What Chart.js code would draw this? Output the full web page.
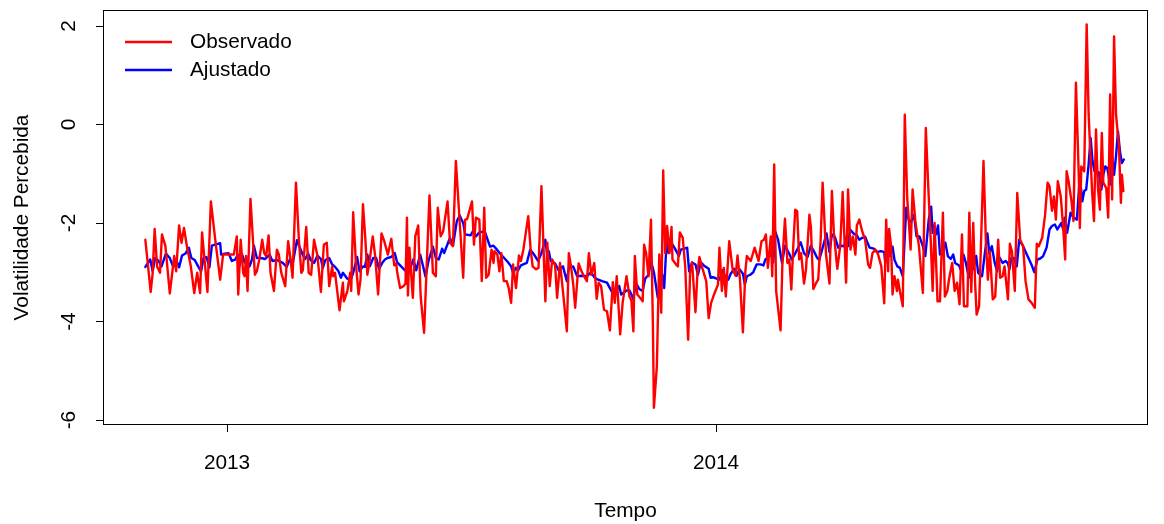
<!DOCTYPE html>
<html>
<head>
<meta charset="utf-8">
<script src="https://cdn.jsdelivr.net/npm/chart.js@4/dist/chart.umd.min.js"></script>
<style>
html,body{margin:0;padding:0;background:#fff;}
#wrap{width:1164px;height:524px;}
</style>
</head>
<body>
<div id="wrap"><canvas id="c" width="1164" height="524"></canvas></div>
<script>
// ---- data (time in decimal years) ----
const obsT = [2012.833,2012.844,2012.848,2012.852,2012.857,2012.863,2012.867,2012.874,2012.883,2012.892,2012.896,2012.902,2012.907,2012.912,2012.918,2012.926,2012.933,2012.939,2012.945,2012.949,2012.954,2012.960,2012.967,2012.976,2012.986,2012.992,2013.006,2013.014,2013.020,2013.023,2013.028,2013.033,2013.036,2013.039,2013.042,2013.048,2013.053,2013.057,2013.061,2013.066,2013.072,2013.076,2013.080,2013.085,2013.089,2013.096,2013.102,2013.106,2013.111,2013.119,2013.125,2013.130,2013.134,2013.141,2013.147,2013.152,2013.155,2013.162,2013.167,2013.172,2013.178,2013.185,2013.192,2013.198,2013.204,2013.209,2013.215,2013.217,2013.221,2013.230,2013.237,2013.239,2013.246,2013.252,2013.254,2013.258,2013.264,2013.269,2013.273,2013.278,2013.283,2013.287,2013.292,2013.298,2013.303,2013.309,2013.316,2013.321,2013.329,2013.336,2013.342,2013.346,2013.348,2013.354,2013.361,2013.365,2013.368,2013.370,2013.373,2013.376,2013.380,2013.385,2013.391,2013.396,2013.403,2013.414,2013.421,2013.427,2013.431,2013.437,2013.442,2013.451,2013.456,2013.462,2013.468,2013.483,2013.487,2013.491,2013.501,2013.505,2013.509,2013.516,2013.521,2013.526,2013.530,2013.535,2013.541,2013.545,2013.547,2013.553,2013.557,2013.561,2013.566,2013.572,2013.576,2013.581,2013.585,2013.591,2013.597,2013.601,2013.606,2013.616,2013.621,2013.625,2013.632,2013.637,2013.643,2013.651,2013.655,2013.660,2013.665,2013.671,2013.675,2013.681,2013.688,2013.695,2013.699,2013.704,2013.708,2013.712,2013.719,2013.725,2013.730,2013.736,2013.740,2013.745,2013.751,2013.756,2013.760,2013.765,2013.771,2013.777,2013.783,2013.789,2013.793,2013.797,2013.804,2013.809,2013.817,2013.823,2013.827,2013.831,2013.834,2013.839,2013.845,2013.850,2013.853,2013.857,2013.862,2013.867,2013.871,2013.873,2013.879,2013.884,2013.888,2013.892,2013.896,2013.900,2013.905,2013.909,2013.911,2013.918,2013.922,2013.926,2013.932,2013.937,2013.943,2013.947,2013.951,2013.958,2013.962,2013.966,2013.971,2013.980,2013.985,2013.990,2013.996,2014.004,2014.007,2014.012,2014.016,2014.020,2014.027,2014.034,2014.040,2014.044,2014.049,2014.055,2014.060,2014.063,2014.071,2014.079,2014.087,2014.093,2014.098,2014.102,2014.106,2014.112,2014.115,2014.119,2014.123,2014.132,2014.136,2014.141,2014.146,2014.150,2014.154,2014.158,2014.162,2014.166,2014.170,2014.174,2014.180,2014.184,2014.191,2014.194,2014.199,2014.205,2014.209,2014.214,2014.218,2014.225,2014.232,2014.237,2014.241,2014.248,2014.254,2014.259,2014.266,2014.270,2014.275,2014.280,2014.285,2014.288,2014.293,2014.299,2014.305,2014.311,2014.315,2014.320,2014.326,2014.331,2014.338,2014.344,2014.348,2014.352,2014.354,2014.358,2014.361,2014.365,2014.370,2014.372,2014.376,2014.382,2014.386,2014.391,2014.398,2014.402,2014.408,2014.415,2014.423,2014.429,2014.434,2014.439,2014.443,2014.447,2014.453,2014.458,2014.464,2014.468,2014.473,2014.477,2014.483,2014.488,2014.493,2014.498,2014.503,2014.507,2014.514,2014.518,2014.522,2014.526,2014.530,2014.533,2014.538,2014.547,2014.552,2014.556,2014.560,2014.566,2014.571,2014.577,2014.581,2014.586,2014.590,2014.597,2014.601,2014.605,2014.611,2014.616,2014.622,2014.628,2014.633,2014.639,2014.646,2014.652,2014.656,2014.660,2014.667,2014.673,2014.678,2014.682,2014.687,2014.691,2014.695,2014.699,2014.705,2014.710,2014.714,2014.717,2014.721,2014.727,2014.731,2014.736,2014.742,2014.744,2014.747,2014.753,2014.758,2014.762,2014.769,2014.773,2014.777,2014.781,2014.785,2014.789,2014.792,2014.798,2014.802,2014.806,2014.810,2014.814,2014.818,2014.824,2014.828,2014.830,2014.833];
const obsV = [-2.34,-3.40,-3.01,-2.12,-2.88,-3.01,-2.23,-2.47,-3.43,-2.67,-2.98,-2.05,-2.40,-2.10,-2.47,-2.88,-3.42,-3.01,-3.42,-2.19,-2.74,-3.40,-1.56,-2.34,-3.15,-2.64,-2.64,-2.64,-2.27,-3.45,-2.34,-3.01,-3.08,-2.67,-3.38,-1.51,-2.34,-3.05,-2.98,-2.74,-2.34,-2.61,-2.67,-2.25,-3.01,-3.38,-2.54,-2.64,-3.01,-3.28,-2.37,-2.74,-3.11,-1.18,-2.34,-3.01,-2.96,-2.08,-3.01,-3.05,-2.34,-2.67,-3.40,-2.44,-2.40,-3.28,-2.88,-3.08,-3.01,-3.77,-3.21,-3.59,-3.38,-3.01,-3.38,-1.78,-2.88,-3.45,-3.15,-1.62,-2.34,-3.05,-2.74,-2.27,-2.67,-3.45,-2.21,-2.35,-2.64,-2.32,-2.86,-2.82,-3.00,-3.32,-3.28,-3.23,-1.89,-3.47,-2.50,-2.96,-3.52,-2.27,-2.05,-3.49,-4.23,-1.44,-3.01,-3.08,-1.69,-2.27,-2.17,-1.56,-2.40,-2.47,-0.74,-3.11,-1.93,-1.92,-1.56,-2.44,-1.89,-1.93,-3.18,-1.69,-3.11,-3.05,-2.54,-2.81,-2.57,-2.64,-2.98,-2.61,-3.18,-3.18,-3.32,-3.62,-2.84,-3.32,-2.66,-2.77,-2.54,-1.86,-2.54,-2.88,-2.94,-2.91,-1.25,-3.59,-2.40,-3.28,-2.74,-2.86,-3.52,-2.81,-3.49,-4.20,-2.61,-2.91,-3.25,-3.72,-2.82,-2.98,-3.08,-3.18,-2.61,-3.05,-2.81,-3.54,-3.21,-3.28,-3.76,-3.79,-4.18,-3.20,-3.62,-3.08,-4.26,-3.62,-3.08,-3.49,-3.57,-4.20,-2.67,-3.45,-3.52,-3.59,-2.44,-2.61,-3.08,-1.93,-4.10,-5.75,-4.91,-2.64,-3.82,-0.93,-2.61,-2.06,-2.61,-2.08,-2.74,-2.84,-2.88,-2.19,-2.30,-2.88,-4.37,-3.01,-2.80,-3.81,-3.01,-2.69,-2.88,-3.18,-3.93,-3.62,-3.45,-3.25,-2.50,-3.38,-2.91,-3.49,-2.37,-2.94,-3.07,-2.66,-3.15,-4.22,-2.98,-2.67,-2.77,-2.50,-2.77,-2.37,-2.34,-2.23,-2.91,-2.27,-3.08,-0.81,-3.38,-4.18,-2.74,-1.91,-2.81,-2.74,-3.35,-2.47,-1.73,-1.76,-2.74,-2.61,-3.23,-2.94,-1.83,-2.08,-3.34,-3.21,-3.15,-2.34,-1.18,-2.64,-3.23,-1.35,-2.20,-2.93,-2.47,-1.37,-3.21,-1.32,-2.54,-2.27,-2.64,-2.05,-1.93,-2.17,-2.34,-2.84,-2.91,-2.61,-2.54,-2.62,-2.88,-3.63,-1.93,-2.98,-2.12,-2.47,-3.45,-3.08,-3.38,-3.15,-3.38,-3.69,0.20,-1.49,-2.54,-1.32,-2.00,-2.47,-3.42,-0.07,-1.25,-2.34,-3.38,-2.00,-3.59,-3.59,-1.79,-3.49,-3.38,-3.11,-2.81,-3.38,-3.21,-3.65,-2.23,-3.69,-3.69,-1.79,-3.40,-2.00,-3.25,-3.86,-3.69,-0.74,-2.40,-3.15,-2.57,-3.55,-3.49,-2.34,-3.11,-3.08,-2.88,-3.55,-2.42,-2.57,-3.38,-1.39,-2.34,-2.47,-3.18,-3.55,-3.63,-3.72,-2.42,-2.47,-2.30,-1.83,-1.18,-1.25,-1.75,-1.46,-1.93,-1.15,-1.46,-2.10,-2.74,-0.95,-1.15,-1.56,-1.96,0.85,-1.08,-2.10,-0.85,-0.95,2.03,0.20,-1.35,-1.96,-0.10,-1.29,-1.73,-0.17,-1.18,-1.29,-1.89,0.61,-1.52,1.79,0.20,-0.44,-1.59,-1.02,-1.35];

const fitT = [2012.833,2012.843,2012.848,2012.853,2012.860,2012.866,2012.875,2012.883,2012.890,2012.897,2012.902,2012.908,2012.915,2012.922,2012.927,2012.934,2012.941,2012.947,2012.952,2012.958,2012.964,2012.969,2012.979,2012.986,2012.988,2012.995,2013.003,2013.010,2013.017,2013.022,2013.025,2013.031,2013.036,2013.040,2013.046,2013.051,2013.055,2013.061,2013.069,2013.078,2013.087,2013.093,2013.102,2013.114,2013.122,2013.129,2013.134,2013.143,2013.149,2013.155,2013.160,2013.166,2013.171,2013.178,2013.185,2013.192,2013.196,2013.201,2013.209,2013.215,2013.221,2013.228,2013.233,2013.237,2013.246,2013.253,2013.258,2013.266,2013.271,2013.278,2013.282,2013.287,2013.292,2013.299,2013.305,2013.311,2013.318,2013.323,2013.328,2013.336,2013.343,2013.348,2013.356,2013.366,2013.370,2013.374,2013.381,2013.387,2013.395,2013.401,2013.406,2013.412,2013.421,2013.427,2013.433,2013.440,2013.444,2013.452,2013.456,2013.462,2013.470,2013.476,2013.483,2013.487,2013.498,2013.504,2013.509,2013.516,2013.527,2013.534,2013.538,2013.545,2013.552,2013.560,2013.565,2013.575,2013.581,2013.585,2013.591,2013.595,2013.601,2013.613,2013.620,2013.628,2013.636,2013.642,2013.651,2013.655,2013.658,2013.662,2013.671,2013.678,2013.687,2013.695,2013.699,2013.708,2013.716,2013.725,2013.736,2013.744,2013.752,2013.759,2013.767,2013.777,2013.783,2013.790,2013.797,2013.802,2013.806,2013.817,2013.823,2013.826,2013.831,2013.836,2013.843,2013.850,2013.855,2013.862,2013.867,2013.873,2013.881,2013.890,2013.894,2013.899,2013.903,2013.909,2013.916,2013.924,2013.928,2013.935,2013.941,2013.945,2013.951,2013.958,2013.963,2013.969,2013.975,2013.985,2013.989,2013.994,2014.001,2014.007,2014.014,2014.019,2014.025,2014.030,2014.037,2014.042,2014.048,2014.055,2014.059,2014.063,2014.070,2014.076,2014.083,2014.091,2014.097,2014.101,2014.109,2014.115,2014.117,2014.121,2014.127,2014.135,2014.141,2014.149,2014.155,2014.160,2014.166,2014.173,2014.180,2014.187,2014.194,2014.200,2014.207,2014.211,2014.219,2014.226,2014.232,2014.237,2014.243,2014.250,2014.256,2014.262,2014.267,2014.270,2014.274,2014.281,2014.288,2014.293,2014.299,2014.305,2014.314,2014.323,2014.329,2014.337,2014.344,2014.346,2014.352,2014.356,2014.361,2014.365,2014.371,2014.376,2014.382,2014.389,2014.394,2014.399,2014.405,2014.410,2014.416,2014.423,2014.428,2014.435,2014.440,2014.443,2014.446,2014.450,2014.454,2014.458,2014.464,2014.469,2014.474,2014.480,2014.485,2014.489,2014.497,2014.500,2014.506,2014.511,2014.517,2014.522,2014.526,2014.532,2014.536,2014.544,2014.549,2014.555,2014.559,2014.564,2014.570,2014.575,2014.579,2014.586,2014.592,2014.597,2014.600,2014.604,2014.609,2014.615,2014.620,2014.628,2014.637,2014.645,2014.651,2014.657,2014.663,2014.669,2014.676,2014.682,2014.687,2014.693,2014.698,2014.706,2014.710,2014.713,2014.718,2014.725,2014.731,2014.738,2014.744,2014.749,2014.753,2014.757,2014.762,2014.766,2014.770,2014.774,2014.779,2014.783,2014.788,2014.792,2014.796,2014.800,2014.806,2014.810,2014.814,2014.818,2014.822,2014.826,2014.830,2014.834];
const fitV = [-2.89,-2.74,-2.98,-2.71,-2.77,-2.88,-2.62,-2.71,-2.89,-2.77,-2.90,-2.66,-2.62,-2.50,-2.71,-2.75,-2.88,-2.98,-2.71,-2.69,-2.90,-2.46,-2.43,-2.41,-2.64,-2.62,-2.61,-2.77,-2.74,-2.64,-2.88,-2.64,-2.80,-2.74,-2.88,-2.74,-2.46,-2.71,-2.71,-2.73,-2.64,-2.77,-2.75,-2.81,-2.89,-2.73,-2.84,-2.35,-2.50,-2.65,-2.73,-2.62,-2.75,-2.81,-2.66,-2.73,-2.91,-2.75,-2.71,-2.84,-2.89,-2.98,-3.11,-3.01,-3.13,-3.15,-3.01,-2.69,-2.98,-2.88,-2.89,-2.64,-2.88,-2.71,-2.71,-2.93,-2.80,-2.74,-2.71,-2.69,-2.61,-2.80,-2.88,-2.98,-2.64,-2.93,-2.74,-2.96,-2.64,-2.88,-3.09,-2.77,-2.48,-2.71,-2.74,-2.52,-2.61,-2.40,-2.30,-2.46,-1.96,-1.85,-2.00,-2.23,-2.25,-2.15,-2.27,-2.19,-2.17,-2.37,-2.48,-2.46,-2.54,-2.64,-2.69,-2.80,-2.88,-3.01,-2.91,-2.96,-2.86,-2.81,-2.54,-2.64,-2.77,-2.64,-2.34,-2.67,-2.57,-2.77,-2.82,-2.96,-2.88,-3.18,-2.91,-2.88,-3.08,-3.07,-3.08,-3.00,-3.11,-3.15,-3.18,-3.21,-3.32,-3.45,-3.35,-3.28,-3.45,-3.37,-3.37,-3.43,-3.55,-3.21,-3.34,-3.38,-3.13,-3.05,-2.77,-3.00,-3.52,-3.05,-3.32,-2.37,-2.61,-2.40,-2.52,-2.67,-2.54,-2.52,-2.50,-2.98,-2.80,-2.84,-3.05,-2.80,-2.86,-2.93,-3.11,-3.10,-3.13,-3.15,-2.96,-3.11,-3.15,-3.03,-2.93,-3.07,-2.94,-3.03,-3.25,-3.08,-3.05,-3.00,-2.84,-2.84,-2.86,-2.74,-2.67,-2.66,-2.80,-2.17,-2.34,-2.81,-2.46,-2.61,-2.74,-2.65,-2.54,-2.39,-2.61,-2.69,-2.46,-2.57,-2.71,-2.75,-2.47,-2.21,-2.59,-2.23,-2.28,-2.50,-2.46,-2.47,-2.27,-2.47,-2.13,-2.21,-2.25,-2.34,-2.30,-2.28,-2.50,-2.52,-2.59,-2.57,-2.59,-2.81,-2.47,-2.67,-2.48,-2.75,-2.88,-2.91,-3.08,-1.69,-1.93,-1.98,-1.83,-2.27,-2.27,-2.47,-2.67,-1.93,-1.67,-2.20,-2.05,-2.23,-2.05,-2.64,-2.57,-2.40,-2.67,-2.73,-2.64,-2.81,-2.86,-2.94,-2.64,-2.81,-3.11,-2.64,-2.94,-2.67,-3.01,-3.08,-2.67,-2.21,-2.62,-2.47,-2.81,-2.98,-2.69,-2.81,-2.77,-2.82,-2.94,-2.71,-2.71,-2.88,-2.34,-2.47,-2.67,-2.84,-3.00,-2.74,-2.72,-2.67,-2.50,-2.13,-2.06,-2.03,-2.13,-2.00,-2.13,-1.89,-2.20,-1.79,-1.89,-1.93,-1.05,-1.56,-1.35,-1.32,-0.81,-0.27,-0.74,-0.95,-0.95,-0.98,-1.32,-1.02,-0.85,-0.88,-1.22,-0.64,-1.02,-0.64,-0.14,-0.54,-0.78,-0.71];

const seriesNames = ['Observado', 'Ajustado'];
const seriesColors = ['#ff0000', '#0000ff'];
const xTickYears = [2013, 2014];
const yTickValues = [-6, -4, -2, 0, 2];
const xRange = [2012.7464, 2014.8834];
const yRange = [-6.10, 2.325];
const xTitle = 'Tempo';
const yTitle = 'Volatilidade Percebida';

// ---- chart ----
const FONT = 'Liberation Sans, Arial, Helvetica, sans-serif';
const FS = 20.8;
const toXY = (T, V) => T.map((t, i) => ({x: t, y: V[i]}));

const framePlugin = {
  id: 'frame',
  afterDatasetsDraw(chart) {
    const {ctx, chartArea: a} = chart;
    ctx.save();
    ctx.strokeStyle = '#000';
    ctx.lineWidth = 1;
    ctx.strokeRect(Math.round(a.left) + 0.5, Math.round(a.top) + 0.5,
                   Math.round(a.right - a.left) - 1, Math.round(a.bottom - a.top) - 1);
    ctx.restore();
  }
};

const legendPlugin = {
  id: 'rlegend',
  afterDraw(chart) {
    const {ctx, chartArea: a} = chart;
    ctx.save();
    ctx.font = FS + 'px ' + FONT;
    ctx.textBaseline = 'middle';
    ctx.textAlign = 'left';
    chart.data.datasets.forEach((ds, i) => {
      const y = a.top + 32 + i * 28;
      ctx.strokeStyle = ds.borderColor;
      ctx.lineWidth = 2.5;
      ctx.beginPath();
      ctx.moveTo(a.left + 22, y);
      ctx.lineTo(a.left + 69, y);
      ctx.stroke();
      ctx.fillStyle = '#000';
      ctx.fillText(ds.label, a.left + 87, y);
    });
    ctx.restore();
  }
};

new Chart(document.getElementById('c'), {
  type: 'line',
  data: {
    datasets: [
      {label: seriesNames[0], data: toXY(obsT, obsV), borderColor: seriesColors[0], borderWidth: 2.4,
       pointRadius: 0, tension: 0, fill: false, borderJoinStyle: 'round', borderCapStyle: 'round'},
      {label: seriesNames[1], data: toXY(fitT, fitV), borderColor: seriesColors[1], borderWidth: 2.4,
       pointRadius: 0, tension: 0, fill: false, borderJoinStyle: 'round', borderCapStyle: 'round'}
    ]
  },
  options: {
    responsive: false,
    animation: false,
    events: [],
    layout: {padding: {top: 10, right: 16, left: 0, bottom: 0}},
    plugins: {legend: {display: false}, tooltip: {enabled: false}},
    scales: {
      x: {
        type: 'linear', min: xRange[0], max: xRange[1],
        afterBuildTicks: s => { s.ticks = xTickYears.map(v => ({value: v})); },
        afterFit: s => { s.height = 99; s.paddingLeft = 0; s.paddingRight = 0; },
        ticks: {callback: v => String(v), color: '#000', font: {family: FONT, size: FS},
                padding: 18.5, maxRotation: 0, minRotation: 0, autoSkip: false},
        grid: {drawOnChartArea: false, drawTicks: true, tickLength: 7, color: '#000', lineWidth: 1},
        border: {display: false},
        title: {display: true, text: xTitle, color: '#000', font: {family: FONT, size: FS},
                padding: {top: 0, bottom: 0}}
      },
      y: {
        type: 'linear', min: yRange[0], max: yRange[1],
        afterBuildTicks: s => { s.ticks = yTickValues.map(v => ({value: v})); },
        afterFit: s => { s.width = 103; s.paddingTop = 0; s.paddingBottom = 0; },
        ticks: {callback: v => String(v), color: '#000', font: {family: FONT, size: FS},
                padding: 17, minRotation: 90, maxRotation: 90, crossAlign: 'center', autoSkip: false},
        grid: {drawOnChartArea: false, drawTicks: true, tickLength: 7, color: '#000', lineWidth: 1},
        border: {display: false},
        title: {display: true, text: yTitle, color: '#000', font: {family: FONT, size: FS},
                padding: {top: 9.5, bottom: 0}}
      }
    }
  },
  plugins: [framePlugin, legendPlugin]
});
</script>
</body>
</html>
